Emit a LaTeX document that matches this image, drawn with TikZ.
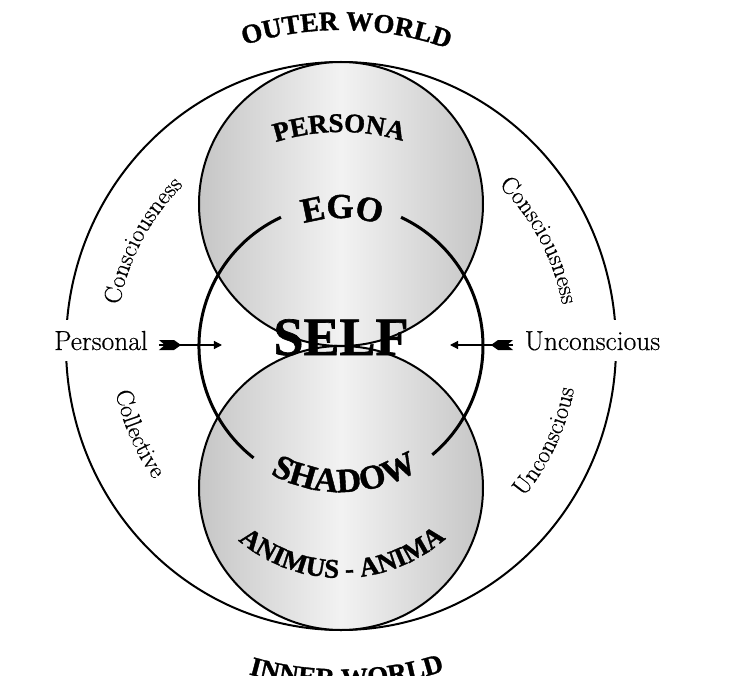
\documentclass[tikz,border=0pt]{standalone}
\usepackage{fontspec}
\newfontfamily\bfont{Liberation Serif Bold}[FakeBold=1.2]
\newfontfamily\rfont{Latin Modern Roman}[FakeBold=0.5]
\usetikzlibrary{decorations.text,arrows.meta}
\begin{document}
\begin{tikzpicture}[x=1pt,y=1pt,
  ring/.style={line width=2pt},
  selfring/.style={line width=3pt},
  shadefill/.style={left color=gray!45,right color=gray!45,middle color=gray!10},
  lbl/.style={font=\rfont\fontsize{27.5}{30}\selectfont, fill=white, inner xsep=3pt, inner ysep=11pt, anchor=base},
  conn/.style={line width=1.2pt, -{Triangle[length=8pt,width=8pt]}},
  arctext/.style={decorate, decoration={text along path, text align=center, text={#1}}},
]
\useasboundingbox (-341,-329) rectangle (395,346);
\clip (-341,-329) rectangle (395,346);
% outer world circle
\draw[ring] (0,0) ellipse[x radius=275, y radius=284];
% persona / shadow circles
\shade[shadefill] (0,142) circle[radius=142];
\shade[shadefill] (0,-142) circle[radius=142];
\draw[ring] (0,142) circle[radius=142];
\draw[ring] (0,-142) circle[radius=142];
% self circle with gaps
\draw[selfring] (115:142) arc[start angle=115, end angle=232, radius=142];
\draw[selfring] (-50:142) arc[start angle=-50, end angle=65, radius=142];
% curved bold labels
\path[arctext={|\bfont\fontsize{27}{27}\selectfont|OUTER WORLD}] (131:316) arc[start angle=131, end angle=47, radius=316];
\path[arctext={|\bfont\fontsize{27}{27}\selectfont|INNER WORLD}] (249:341) arc[start angle=249, end angle=293, radius=341];
\path[arctext={|\bfont\fontsize{27}{27}\selectfont|PERSONA}] (125:214) arc[start angle=125, end angle=56, radius=214];
\path[arctext={|\bfont\fontsize{35}{35}\selectfont|EGO}] (130:128) arc[start angle=130, end angle=49, radius=128];
\path[arctext={|\bfont\fontsize{34}{34}\selectfont|SHADOW}] (230:146) arc[start angle=230, end angle=313, radius=146];
\path[arctext={|\bfont\fontsize{27}{27}\selectfont|ANIMUS - ANIMA}] ([shift={(0,-73)}]213:159) arc[start angle=213, end angle=328, radius=159];
% ring labels
\path[arctext={|\rfont\fontsize{24.5}{24}\selectfont|Consciousness}] (182:225) arc[start angle=182, end angle=122, radius=225];
\path[arctext={|\rfont\fontsize{24.5}{24}\selectfont|Consciousness}] (58:225) arc[start angle=58, end angle=-2, radius=225];
\path[arctext={|\rfont\fontsize{24.5}{24}\selectfont|Unconscious}] (-55:237) arc[start angle=-55, end angle=5, radius=237];
\path[arctext={|\rfont\fontsize{24.5}{24}\selectfont|Collective}] (183:230) arc[start angle=183, end angle=224, radius=230];
% self
\node[font=\bfont\fontsize{54}{54}\selectfont, anchor=base, inner sep=0pt] (self) at (0,-9) {SELF};
% side labels
\node[lbl] (personal) at (-240,-4) {Personal};
\node[lbl] (unconscious) at (251.5,-4) {Unconscious};
% arrows
\coordinate (ltail) at (-182,1);
\coordinate (lhead) at (-119,1);
\coordinate (rtail) at (172,1);
\coordinate (rhead) at (109,1);
\draw[conn] (ltail) -- (lhead);
\draw[conn] (rtail) -- (rhead);
\fill[shift={(ltail)}] (0,-5) -- (6,0) -- (0,5) -- (15,5) -- (22,0) -- (15,-5) -- cycle;
\fill[shift={(rtail)}, xscale=-1] (0,-5) -- (6,0) -- (0,5) -- (15,5) -- (22,0) -- (15,-5) -- cycle;
\end{tikzpicture}
\end{document}
